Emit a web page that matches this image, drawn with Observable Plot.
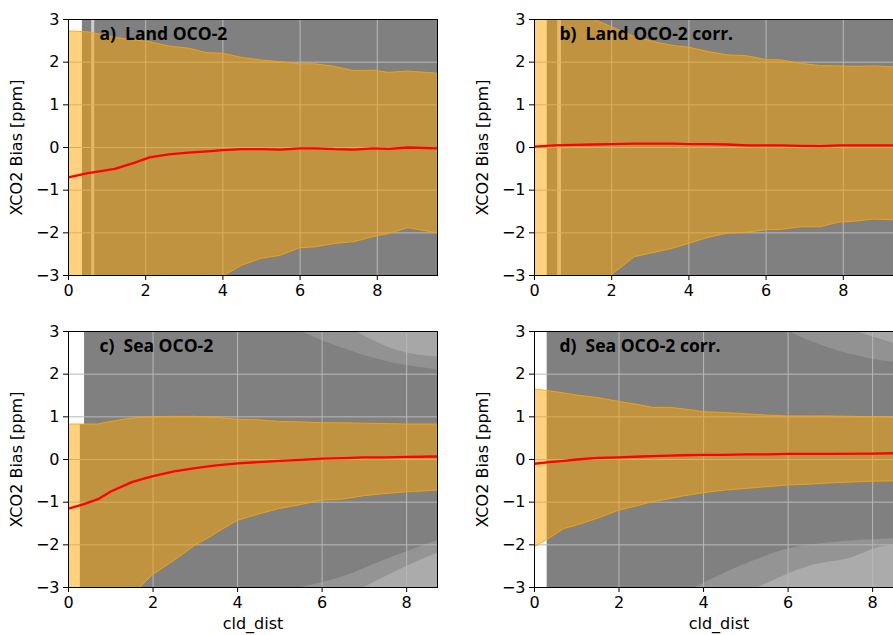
<!DOCTYPE html>
<html><head><meta charset="utf-8">
<script src="https://cdn.jsdelivr.net/npm/d3@7"></script>
<script src="https://cdn.jsdelivr.net/npm/@observablehq/plot@0.6"></script>
<style>
html,body{margin:0;padding:0;background:#fff;overflow:hidden;}
#fig{position:relative;width:893px;height:635px;overflow:hidden;}
.panel{position:absolute;}
.panel svg{max-width:none !important;}
</style></head><body><div id="fig"></div>
<script>
// ---- tick values ----
const xTicks = [0, 2, 4, 6, 8];
const yTicks = [-3, -2, -1, 0, 1, 2, 3];
const xMaxLand = 9.56;
const xMaxSea = 8.73;

// ---- panel a: Land OCO-2 ----
const aX   = [0, 0.5, 0.8, 1.2, 1.7, 2.1, 2.6, 3.1, 3.6, 4.0, 4.5, 5.0, 5.5, 6.0, 6.4, 6.9, 7.4, 7.9, 8.3, 8.8, 9.56];
const aHi  = [2.72, 2.70, 2.65, 2.57, 2.51, 2.47, 2.37, 2.32, 2.21, 2.20, 2.10, 2.04, 2.00, 1.95, 1.95, 1.89, 1.79, 1.80, 1.75, 1.78, 1.73];
const aLo  = [-4.6, -4.4, -4.3, -4.1, -3.9, -3.7, -3.5, -3.35, -3.2, -3.03, -2.77, -2.61, -2.54, -2.36, -2.34, -2.26, -2.22, -2.10, -2.03, -1.89, -2.01];
const aMid = [-0.70, -0.60, -0.56, -0.50, -0.36, -0.23, -0.16, -0.12, -0.09, -0.06, -0.04, -0.04, -0.05, -0.02, -0.02, -0.04, -0.05, -0.02, -0.03, 0.00, -0.02];
// scatter coverage (gray) and the light gap inside it
const aGrayX1 = [0.36];
const aGrayX2 = [9.56];
const aGrayY1 = [-3];
const aGrayY2 = [3];
const aGapX1 = [0.60];
const aGapX2 = [0.68];

// ---- panel b: Land OCO-2 corr. ----
const bX   = [0, 0.5, 1.0, 1.53, 2.0, 2.6, 3.1, 3.6, 4.0, 4.5, 5.0, 5.5, 6.0, 6.4, 6.9, 7.4, 7.9, 8.3, 8.8, 9.56];
const bHi  = [3.6, 3.4, 3.2, 3.0, 2.82, 2.59, 2.47, 2.38, 2.34, 2.24, 2.16, 2.14, 2.05, 2.04, 1.96, 1.91, 1.90, 1.89, 1.90, 1.87];
const bLo  = [-4.2, -3.9, -3.6, -3.3, -3.0, -2.57, -2.47, -2.37, -2.26, -2.12, -2.02, -2.00, -1.94, -1.93, -1.87, -1.87, -1.76, -1.74, -1.69, -1.71];
const bMid = [0.02, 0.05, 0.06, 0.07, 0.08, 0.09, 0.09, 0.09, 0.08, 0.08, 0.07, 0.05, 0.05, 0.05, 0.04, 0.03, 0.05, 0.05, 0.05, 0.05];
const bGrayX1 = [0.33];
const bGrayX2 = [9.56];
const bGrayY1 = [-3];
const bGrayY2 = [3];
const bGapX1 = [0.60];
const bGapX2 = [0.70];

// ---- panel c: Sea OCO-2 ----
const cX   = [0, 0.35, 0.7, 1.0, 1.5, 1.7, 2.0, 2.5, 3.0, 3.4, 3.5, 4.0, 4.5, 5.0, 5.5, 6.0, 6.5, 7.0, 7.5, 8.0, 8.73];
const cHi  = [0.82, 0.82, 0.82, 0.88, 0.96, 0.97, 0.99, 1.00, 1.00, 0.98, 0.98, 0.93, 0.92, 0.88, 0.87, 0.85, 0.85, 0.84, 0.83, 0.82, 0.82];
const cLo  = [-4.4, -4.1, -3.8, -3.55, -3.15, -3.0, -2.71, -2.38, -2.02, -1.80, -1.73, -1.44, -1.29, -1.16, -1.07, -0.96, -0.94, -0.86, -0.81, -0.77, -0.73];
const cMid = [-1.15, -1.05, -0.93, -0.75, -0.53, -0.47, -0.39, -0.28, -0.20, -0.15, -0.14, -0.09, -0.06, -0.03, -0.01, 0.02, 0.03, 0.05, 0.05, 0.06, 0.07];
const cGrayX1 = [0.28, 0.38];
const cGrayX2 = [8.73, 8.73];
const cGrayY1 = [-3, 0.82];
const cGrayY2 = [0.82, 3];
const cGapX1 = [];
const cGapX2 = [];
// sparse (speckled) scatter zones, outer edge and denser core
const cBotX = [5.5, 6.5, 7.5, 8.73],  cBotEdge = [-3.0, -2.75, -2.35, -1.9];
const cBotCX = [7.0, 7.8, 8.73],      cBotCore = [-3.0, -2.6, -2.2];
const cTopX = [5.5, 6.5, 7.5, 8.73],  cTopEdge = [3.0, 2.6, 2.3, 2.1];
const cTopCX = [6.8, 7.8, 8.73],      cTopCore = [3.0, 2.55, 2.4];

// ---- panel d: Sea OCO-2 corr. ----
const dX   = [0, 0.35, 0.7, 1.0, 1.5, 2.0, 2.5, 2.8, 3.2, 3.5, 4.0, 4.5, 5.0, 5.5, 6.0, 6.5, 7.0, 8.0, 8.73];
const dHi  = [1.64, 1.60, 1.55, 1.50, 1.44, 1.35, 1.27, 1.21, 1.21, 1.18, 1.11, 1.09, 1.06, 1.03, 1.01, 1.01, 1.01, 0.99, 0.98];
const dLo  = [-2.06, -1.86, -1.63, -1.55, -1.39, -1.20, -1.08, -1.00, -0.93, -0.87, -0.79, -0.73, -0.69, -0.65, -0.61, -0.59, -0.56, -0.52, -0.51];
const dMid = [-0.10, -0.06, -0.03, 0.00, 0.04, 0.05, 0.07, 0.08, 0.09, 0.10, 0.11, 0.11, 0.12, 0.12, 0.13, 0.13, 0.13, 0.14, 0.15];
const dGrayX1 = [0.30];
const dGrayX2 = [8.73];
const dGrayY1 = [-3];
const dGrayY2 = [3];
const dGapX1 = [];
const dGapX2 = [];
const dBotX = [3.8, 5.0, 6.0, 7.0, 8.0, 8.73],  dBotEdge = [-3.0, -2.45, -2.1, -1.95, -1.88, -1.85];
const dBotCX = [5.3, 6.5, 7.5, 8.2, 8.73],      dBotCore = [-3.0, -2.5, -2.3, -2.05, -2.0];
const dTopX = [6.0, 7.0, 8.0, 8.73],            dTopEdge = [3.0, 2.6, 2.35, 2.25];
const dTopCX = [7.6, 8.73],                     dTopCore = [3.0, 2.65];

const titles = ["a)  Land OCO-2", "b)  Land OCO-2 corr.", "c)  Sea OCO-2", "d)  Sea OCO-2 corr."];
const yLabel = "XCO2 Bias [ppm]";
const xLabel = "cld_dist";

const minus = d => d < 0 ? "\u2212" + (-d) : String(d);
const zip = (xs, ys) => (xs || []).map((x, i) => ({x, y: ys[i]}));

function makePanel(cfg) {
  const band = cfg.xs.map((x, i) => ({x, hi: cfg.hi[i], lo: cfg.lo[i], mid: cfg.mid[i]}));
  const gray = cfg.gx1.map((x1, i) => ({x1, x2: cfg.gx2[i], y1: cfg.gy1[i], y2: cfg.gy2[i]}));
  const gaps = cfg.gapx1.map((x1, i) => ({x1, x2: cfg.gapx2[i]}));
  const plotW = 369;
  const sparseMarks = [];
  if (cfg.bot) {
    sparseMarks.push(
      Plot.areaY(zip(...cfg.bot), {x: "x", y1: -3, y2: "y", fill: "white", fillOpacity: 0.16, curve: "monotone-x"}),
      Plot.areaY(zip(...cfg.botCore), {x: "x", y1: -3, y2: "y", fill: "white", fillOpacity: 0.22, curve: "monotone-x"}),
      Plot.areaY(zip(...cfg.top), {x: "x", y1: "y", y2: 3, fill: "white", fillOpacity: 0.14, curve: "monotone-x"}),
      Plot.areaY(zip(...cfg.topCore), {x: "x", y1: "y", y2: 3, fill: "white", fillOpacity: 0.2, curve: "monotone-x"})
    );
  }
  return Plot.plot({
    width: cfg.width,
    height: cfg.height,
    marginLeft: cfg.marginLeft,
    marginRight: cfg.width - cfg.marginLeft - plotW,
    marginTop: cfg.marginTop,
    marginBottom: cfg.marginBottom,
    style: {fontFamily: "DejaVu Sans", fontSize: "16px", color: "black", background: "transparent", overflow: "visible", maxWidth: "none"},
    x: {domain: [0, cfg.xmax], ticks: xTicks, tickSize: 5, tickPadding: 4, tickFormat: minus,
        label: cfg.xLabel, labelAnchor: "center", labelOffset: 41, labelArrow: "none"},
    y: {domain: [-3, 3], ticks: yTicks, tickSize: 5, tickPadding: 4, tickFormat: minus,
        label: yLabel, labelAnchor: "center", labelOffset: 58, labelArrow: "none"},
    marks: [
      Plot.rect(gray, {x1: "x1", x2: "x2", y1: "y1", y2: "y2", fill: "#808080"}),
      Plot.rect(gaps, {x1: "x1", x2: "x2", y1: -3, y2: 3, fill: "white", fillOpacity: 0.6}),
      ...sparseMarks,
      Plot.ruleX(xTicks.filter(d => d > 0), {stroke: "#b8b8b8", strokeWidth: 1}),
      Plot.ruleY(yTicks.filter(d => d > -3 && d < 3), {stroke: "#b8b8b8", strokeWidth: 1}),
      Plot.areaY(band, {x: "x", y1: "lo", y2: "hi", fill: "orange", fillOpacity: 0.5, stroke: "orange", strokeOpacity: 0.85, strokeWidth: 1, clip: true}),
      Plot.line(band, {x: "x", y: "mid", stroke: "red", strokeWidth: 2.3, clip: true}),
      Plot.frame({stroke: "black", strokeWidth: 1}),
      Plot.text([cfg.title], {text: d => d, frameAnchor: "top-left", dx: cfg.titleDx, dy: 15,
        textAnchor: "start", lineAnchor: "middle", fontWeight: "bold", fontFamily: "Open Sans", fontSize: 17.5, fill: "black"})
    ]
  });
}

const fig = document.getElementById("fig");
const panels = [
  {left: 0, top: 0, cfg: {xs: aX, hi: aHi, lo: aLo, mid: aMid, gx1: aGrayX1, gx2: aGrayX2, gy1: aGrayY1, gy2: aGrayY2,
    gapx1: aGapX1, gapx2: aGapX2,
    xmax: xMaxLand, title: titles[0], titleDx: 31, width: 446, height: 310, marginLeft: 68, marginTop: 19, marginBottom: 35, xLabel: null}},
  {left: 450, top: 0, cfg: {xs: bX, hi: bHi, lo: bLo, mid: bMid, gx1: bGrayX1, gx2: bGrayX2, gy1: bGrayY1, gy2: bGrayY2,
    gapx1: bGapX1, gapx2: bGapX2,
    xmax: xMaxLand, title: titles[1], titleDx: 25, width: 462, height: 310, marginLeft: 84, marginTop: 19, marginBottom: 35, xLabel: null}},
  {left: 0, top: 310, cfg: {xs: cX, hi: cHi, lo: cLo, mid: cMid, gx1: cGrayX1, gx2: cGrayX2, gy1: cGrayY1, gy2: cGrayY2,
    gapx1: cGapX1, gapx2: cGapX2,
    bot: [cBotX, cBotEdge], botCore: [cBotCX, cBotCore], top: [cTopX, cTopEdge], topCore: [cTopCX, cTopCore],
    xmax: xMaxSea, title: titles[2], titleDx: 31, width: 446, height: 325, marginLeft: 68, marginTop: 21, marginBottom: 48, xLabel: xLabel}},
  {left: 450, top: 310, cfg: {xs: dX, hi: dHi, lo: dLo, mid: dMid, gx1: dGrayX1, gx2: dGrayX2, gy1: dGrayY1, gy2: dGrayY2,
    gapx1: dGapX1, gapx2: dGapX2,
    bot: [dBotX, dBotEdge], botCore: [dBotCX, dBotCore], top: [dTopX, dTopEdge], topCore: [dTopCX, dTopCore],
    xmax: xMaxSea, title: titles[3], titleDx: 25, width: 462, height: 325, marginLeft: 84, marginTop: 21, marginBottom: 48, xLabel: xLabel}}
];
for (const p of panels) {
  const div = document.createElement("div");
  div.className = "panel";
  div.style.left = p.left + "px";
  div.style.top = p.top + "px";
  div.style.width = p.cfg.width + "px";
  div.appendChild(makePanel(p.cfg));
  fig.appendChild(div);
}
</script>
</body></html>
